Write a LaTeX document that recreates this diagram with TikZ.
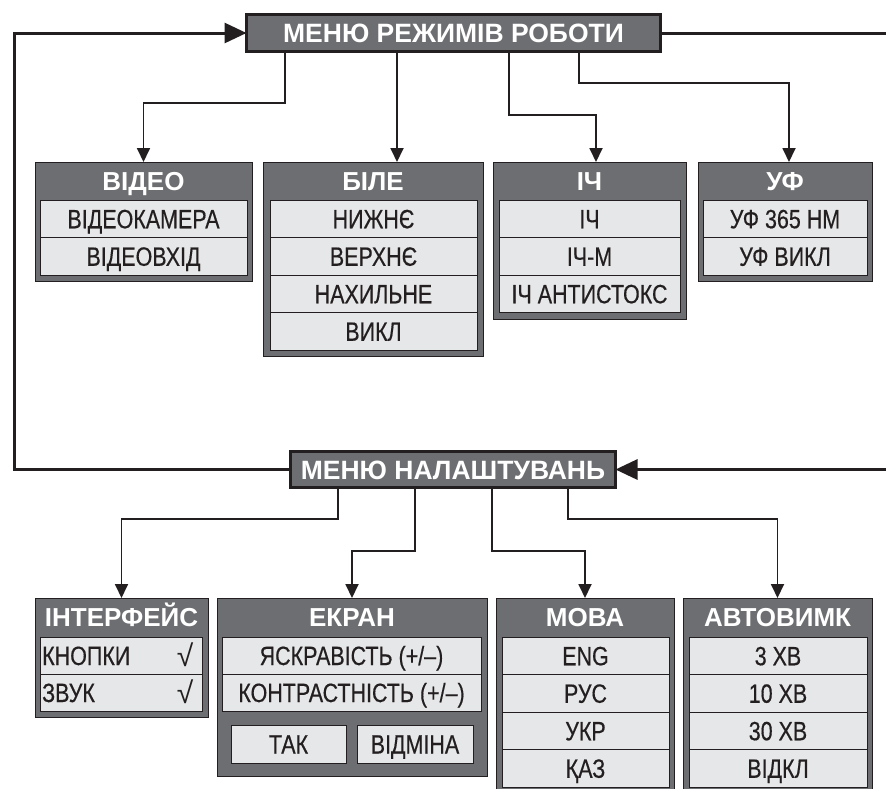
\documentclass[tikz,border=0pt]{standalone}
\usepackage{fontspec}
\setmainfont{Liberation Sans}
\newfontfamily\narrowf[FakeStretch=0.81,FakeBold=0.4]{Liberation Sans}
\usetikzlibrary{arrows.meta}
\definecolor{hdgray}{RGB}{109,110,113}
\definecolor{rowgray}{RGB}{230,231,232}
\definecolor{edge}{RGB}{35,31,32}
\tikzset{
 mainbox/.style={draw=edge, line width=3pt, fill=hdgray, text=white,
   font=\bfseries\fontsize{26.5}{27}\selectfont, inner sep=0pt, outer sep=0pt,
   text height=19pt, text depth=0pt},
 obox/.style={draw=edge, line width=1pt, fill=hdgray, inner sep=0pt, outer sep=0pt, anchor=north west},
 htext/.style={text=white, font=\bfseries\fontsize{26}{27}\selectfont, inner sep=0pt, outer sep=0pt,
   text height=18.5pt, text depth=0pt},
 rowbox/.style={draw=edge, line width=0.8pt, fill=rowgray, inner sep=0pt, outer sep=0pt, anchor=north west,
   font=\narrowf\fontsize{26.5}{27}\selectfont, text=edge, text height=19pt, text depth=0pt},
 rtext/.style={inner sep=0pt, font=\narrowf\fontsize{26.5}{27}\selectfont, text=edge, text height=19pt, text depth=0pt},
 checkmk/.style={inner sep=0pt, font=\fontsize{30}{30}\selectfont, text=edge},
 conn/.style={draw=edge, line width=1.8pt, -{Triangle[length=14pt,width=13pt]}},
 mainline/.style={draw=edge, line width=3pt},
 mainarrow/.style={mainline, -{Triangle[length=22pt,width=20pt]}},
}
\begin{document}
\begin{tikzpicture}[x=1pt,y=-1pt]
\useasboundingbox (0,0) rectangle (886,788);
% main menus
\node[mainbox, minimum width=414pt, minimum height=37pt] (mtop) at (453.5,33) {МЕНЮ РЕЖИМІВ РОБОТИ};
\node[mainbox, minimum width=325pt, minimum height=36pt] (mset) at (453,469.5) {МЕНЮ НАЛАШТУВАНЬ};
% top row boxes
\node[obox, minimum width=217pt, minimum height=119pt] (video) at (35,162) {};
\node[htext] (videoh) at ([yshift=-19pt]video.north) {ВІДЕО};
\node[rowbox, minimum width=207pt, minimum height=37.5pt] (v1) at (40,200) {ВІДЕОКАМЕРА};
\node[rowbox, minimum width=207pt, minimum height=37.5pt] (v2) at (40,237.5) {ВІДЕОВХІД};

\node[obox, minimum width=220pt, minimum height=194pt] (bile) at (263,162) {};
\node[htext] (bileh) at ([yshift=-19pt]bile.north) {БІЛЕ};
\node[rowbox, minimum width=207pt, minimum height=37.5pt] (b1) at (270,200) {НИЖНЄ};
\node[rowbox, minimum width=207pt, minimum height=37.5pt] (b2) at (270,237.5) {ВЕРХНЄ};
\node[rowbox, minimum width=207pt, minimum height=37.5pt] (b3) at (270,275) {НАХИЛЬНЕ};
\node[rowbox, minimum width=207pt, minimum height=37.5pt] (b4) at (270,312.5) {ВИКЛ};

\node[obox, minimum width=193pt, minimum height=157pt] (ich) at (493,162) {};
\node[htext] (ichh) at ([yshift=-19pt]ich.north) {ІЧ};
\node[rowbox, minimum width=181pt, minimum height=37.5pt] (i1) at (499,200) {ІЧ};
\node[rowbox, minimum width=181pt, minimum height=37.5pt] (i2) at (499,237.5) {ІЧ-М};
\node[rowbox, minimum width=181pt, minimum height=37.5pt] (i3) at (499,275) {ІЧ АНТИСТОКС};

\node[obox, minimum width=174pt, minimum height=119pt] (uf) at (698,162) {};
\node[htext] (ufh) at ([yshift=-19pt]uf.north) {УФ};
\node[rowbox, minimum width=164pt, minimum height=37.5pt] (u1) at (703,200) {УФ 365 НМ};
\node[rowbox, minimum width=164pt, minimum height=37.5pt] (u2) at (703,237.5) {УФ ВИКЛ};

% bottom row boxes
\node[obox, minimum width=173pt, minimum height=119pt] (intf) at (35,598) {};
\node[htext] (intfh) at ([yshift=-19.5pt]intf.north) {ІНТЕРФЕЙС};
\node[rowbox, minimum width=162pt, minimum height=37pt] (n1) at (40,637) {};
\node[rowbox, minimum width=162pt, minimum height=37pt] (n2) at (40,674) {};
\node[rtext, anchor=west] (n1t) at ([xshift=2pt]n1.west) {КНОПКИ};
\node[rtext, anchor=west] (n2t) at ([xshift=2pt]n2.west) {ЗВУК};
\node[checkmk] (n1c) at ([xshift=-17pt,yshift=1pt]n1.east) {√};
\node[checkmk] (n2c) at ([xshift=-17pt,yshift=1pt]n2.east) {√};

\node[obox, minimum width=270pt, minimum height=178pt] (ekran) at (217,598) {};
\node[htext] (ekranh) at ([yshift=-19.5pt]ekran.north) {ЕКРАН};
\node[rowbox, minimum width=259pt, minimum height=37pt] (e1) at (222,637) {ЯСКРАВІСТЬ (+/–)};
\node[rowbox, minimum width=259pt, minimum height=37pt] (e2) at (222,674) {КОНТРАСТНІСТЬ (+/–)};
\node[rowbox, minimum width=115pt, minimum height=38pt] (tak) at (231,725) {ТАК};
\node[rowbox, minimum width=116pt, minimum height=38pt] (vidm) at (357,725) {ВІДМІНА};

\node[obox, minimum width=178pt, minimum height=200pt] (mova) at (496,598) {};
\node[htext] (movah) at ([yshift=-19.5pt]mova.north) {МОВА};
\node[rowbox, minimum width=167pt, minimum height=37.5pt] (m1) at (502,637) {ENG};
\node[rowbox, minimum width=167pt, minimum height=37.5pt] (m2) at (502,674.5) {РУС};
\node[rowbox, minimum width=167pt, minimum height=37.5pt] (m3) at (502,712) {УКР};
\node[rowbox, minimum width=167pt, minimum height=37.5pt] (m4) at (502,749.5) {ҚАЗ};

\node[obox, minimum width=189pt, minimum height=200pt] (avto) at (683,598) {};
\node[htext] (avtoh) at ([yshift=-19.5pt]avto.north) {АВТОВИМК};
\node[rowbox, minimum width=178pt, minimum height=37.5pt] (a1) at (689,637) {3 ХВ};
\node[rowbox, minimum width=178pt, minimum height=37.5pt] (a2) at (689,674.5) {10 ХВ};
\node[rowbox, minimum width=178pt, minimum height=37.5pt] (a3) at (689,712) {30 ХВ};
\node[rowbox, minimum width=178pt, minimum height=37.5pt] (a4) at (689,749.5) {ВІДКЛ};

% connectors from top menu
\draw[conn] ([xshift=-168.5pt]mtop.south) -- ++(0,51.5) -| (video.north);
\draw[conn] ([xshift=-56.5pt]mtop.south) -- ([xshift=-56.5pt]mtop.south |- bile.north);
\draw[conn] ([xshift=55.5pt]mtop.south) -- ++(0,63.5) -| ([xshift=6.5pt]ich.north);
\draw[conn] ([xshift=125.5pt]mtop.south) -- ++(0,31.5) -| ([xshift=4pt]uf.north);
% connectors from settings menu
\draw[conn] ([xshift=-115pt]mset.south) -- ++(0,31.5) -| (intf.north);
\draw[conn] ([xshift=-38pt]mset.south) -- ++(0,63.5) -| (ekran.north);
\draw[conn] ([xshift=39pt]mset.south) -- ++(0,63.5) -| (mova.north);
\draw[conn] ([xshift=115pt]mset.south) -- ++(0,31.5) -| (avto.north);
% loop lines
\coordinate (redge) at (890,33);
\draw[mainarrow] (mset.west) -- ++(-276.5,0) |- (mtop.west);
\draw[mainarrow] (mtop.east) -- (mtop.east -| redge) -- (mset.east -| redge) -- (mset.east);
\end{tikzpicture}
\end{document}
